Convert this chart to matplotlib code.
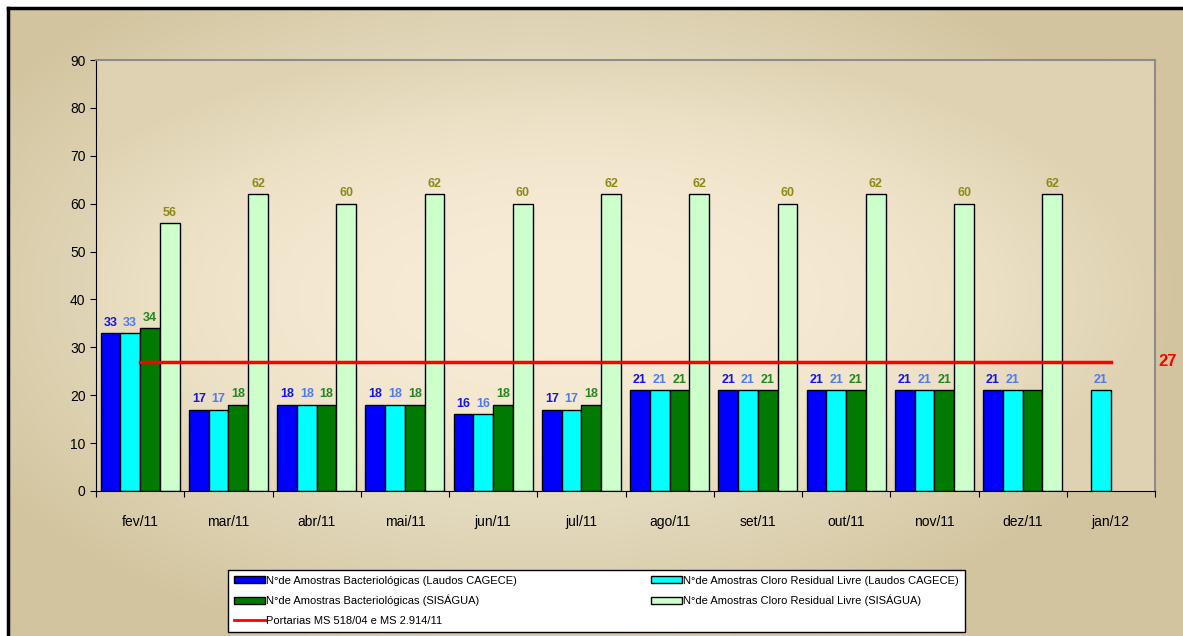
import numpy as np
import matplotlib.pyplot as plt
from matplotlib.patches import Patch
from matplotlib.lines import Line2D

plt.rcParams["font.family"] = ["Liberation Sans", "DejaVu Sans"]

# Data
meses = ["fev/11", "mar/11", "abr/11", "mai/11", "jun/11", "jul/11",
         "ago/11", "set/11", "out/11", "nov/11", "dez/11", "jan/12"]
bact_cagece = [33, 17, 18, 18, 16, 17, 21, 21, 21, 21, 21, np.nan]
cloro_cagece = [33, 17, 18, 18, 16, 17, 21, 21, 21, 21, 21, 21]
bact_sisagua = [34, 18, 18, 18, 18, 18, 21, 21, 21, 21, 21, np.nan]
cloro_sisagua = [56, 62, 60, 62, 60, 62, 62, 60, 62, 60, 62, np.nan]
# dez/11 label of the SISAGUA bacteriological bar is not shown in the original
bact_sisagua_labels = ["34", "18", "18", "18", "18", "18", "21", "21", "21", "21", "", ""]
portaria = 27

series = [
    ("N°de Amostras Bacteriológicas (Laudos CAGECE)", bact_cagece, "#0000ff", "#1414e6", None),
    ("N°de Amostras Cloro Residual Livre (Laudos CAGECE)", cloro_cagece, "#00ffff", "#4f7bf0", None),
    ("N°de Amostras Bacteriológicas (SISÁGUA)", bact_sisagua, "#007a00", "#1f8a1f", bact_sisagua_labels),
    ("N°de Amostras Cloro Residual Livre (SISÁGUA)", cloro_sisagua, "#ccffcc", "#8c8a14", None),
]


def gradient(h, w, light, dark, cx=0.5, cy=0.5, power=1.6):
    yy, xx = np.mgrid[0:1:h * 1j, 0:1:w * 1j]
    r = np.sqrt(((xx - cx) / 0.55) ** 2 + ((yy - cy) / 0.6) ** 2)
    t = np.clip(r, 0, 1) ** power
    light = np.array(light) / 255.0
    dark = np.array(dark) / 255.0
    return light[None, None, :] * (1 - t[..., None]) + dark[None, None, :] * t[..., None]


W, H = 1183, 636
fig = plt.figure(figsize=(W / 100, H / 100), dpi=100)
fig.patch.set_facecolor("white")

# framed gradient background
x0, y0 = 8 / W, 8 / H
bg = fig.add_axes([x0, 0, 1 - x0, 1 - y0])
bg.imshow(gradient(200, 400, (240, 233, 212), (210, 196, 158), cx=0.45, cy=0.45),
          aspect="auto", extent=[0, 1, 0, 1])
bg.set_xlim(0, 1)
bg.set_ylim(0, 1)
bg.set_xticks([])
bg.set_yticks([])
for side in ["right", "bottom"]:
    bg.spines[side].set_visible(False)
for side in ["top", "left"]:
    bg.spines[side].set_linewidth(2.5)
    bg.spines[side].set_color("black")

pos = [96 / W, 1 - 491 / H, (1155 - 96) / W, (491 - 60) / H]
pbg = fig.add_axes(pos)
pbg.imshow(gradient(200, 400, (248, 236, 214), (222, 210, 178), cx=0.45, cy=0.55, power=2.2),
           aspect="auto", extent=[0, 1, 0, 1])
pbg.axis("off")

ax = fig.add_axes(pos)
ax.set_facecolor("none")

x = np.arange(len(meses))
width = 0.224
offsets = (np.arange(4) - 1.5) * width
handles = []
for (label, values, color, txt_color, labels), off in zip(series, offsets):
    bars = ax.bar(x + off, values, width, color=color, edgecolor="black", linewidth=1.0, zorder=2)
    for i, (b, v) in enumerate(zip(bars, values)):
        if np.isnan(v):
            continue
        text = labels[i] if labels is not None else "%d" % v
        ax.text(b.get_x() + b.get_width() / 2, v + 0.9, text, ha="center", va="bottom",
                fontsize=9, fontweight="bold", color=txt_color, zorder=4)
    handles.append(Patch(facecolor=color, edgecolor="black", linewidth=1.0, label=label))

ax.plot([x[0], x[-1]], [portaria, portaria], color="red", linewidth=2.5, zorder=3)
ax.text(11.535, portaria, "%d" % portaria, color="red", fontsize=12, fontweight="bold",
        ha="left", va="center", clip_on=False)
line_handle = Line2D([], [], color="red", linewidth=2.0, label="Portarias MS 518/04 e MS 2.914/11")

ax.set_xlim(-0.5, len(meses) - 0.5)
ax.set_ylim(0, 90)
ax.set_yticks(range(0, 91, 10))
ax.set_xticks(np.arange(-0.5, len(meses)), [""] * (len(meses) + 1))
ax.set_xticks(x, meses, minor=True)
ax.tick_params(axis="x", which="minor", length=0, pad=17, labelsize=10)
ax.tick_params(axis="x", which="major", direction="out", length=4)
ax.tick_params(axis="y", direction="out", length=4, labelsize=10)
for side in ["top", "right"]:
    ax.spines[side].set_color("#8c8c8c")
    ax.spines[side].set_linewidth(1.5)
for side in ["left", "bottom"]:
    ax.spines[side].set_color("black")

order = [handles[0], handles[2], line_handle, handles[1], handles[3]]
leg = fig.legend(order, [h.get_label() for h in order],
                 loc="upper left", bbox_to_anchor=(228 / W, 1 - 570 / H),
                 ncol=2, fontsize=8, frameon=True, fancybox=False, framealpha=1,
                 handlelength=2.8, handleheight=0.6, handletextpad=0.15, labelspacing=0.85,
                 columnspacing=12.0, borderpad=0.5, borderaxespad=0)
leg.get_frame().set_edgecolor("black")
leg.get_frame().set_linewidth(1.0)
leg.get_frame().set_facecolor("white")

fig.savefig("out.png", dpi=100)
